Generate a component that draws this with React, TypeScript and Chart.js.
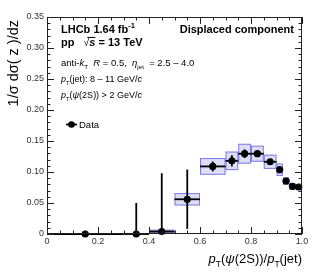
import React, { useEffect, useRef } from "react";
import { Chart, registerables } from "chart.js";

Chart.register(...registerables);

// ---- data ----
const binLow = [0, 0.3, 0.4, 0.5, 0.6, 0.7, 0.75, 0.8, 0.85, 0.9, 0.925, 0.95, 0.975];
const binHigh = [0.3, 0.4, 0.5, 0.6, 0.7, 0.75, 0.8, 0.85, 0.9, 0.925, 0.95, 0.975, 1.0];
const binCenter = [0.15, 0.35, 0.45, 0.55, 0.65, 0.725, 0.775, 0.825, 0.875, 0.9125, 0.9375, 0.9625, 0.9875];
const values = [0, 0, 0.004, 0.056, 0.109, 0.118, 0.1295, 0.1295, 0.1165, 0.1037, 0.0855, 0.0768, 0.0758];
const statUp = [0, 0.05, 0.094, 0.048, 0.008, 0.009, 0.007, 0.004, 0.004, 0.004, 0.003, 0.003, 0.003];
const statDown = [0, 0, 0.004, 0.048, 0.008, 0.009, 0.007, 0.004, 0.004, 0.004, 0.003, 0.003, 0.003];
const sysErr = [0, 0, 0.003, 0.010, 0.0135, 0.015, 0.016, 0.013, 0.0115, 0.010, 0.006, 0.005, 0.005];
const xTickStep = 0.2;
const yTickStep = 0.05;

const FAMILY = '"Liberation Sans", Arial, Helvetica, sans-serif';

type Seg = { t: string; style?: string; scale?: number; dy?: number; over?: boolean };

function drawRich(
  ctx: CanvasRenderingContext2D,
  x: number,
  y: number,
  segs: Seg[],
  size: number,
  align: "left" | "right" = "left",
  color = "#000"
) {
  ctx.save();
  ctx.textAlign = "left";
  ctx.textBaseline = "alphabetic";
  ctx.fillStyle = color;
  const widths = segs.map((s) => {
    ctx.font = `${s.style || ""} ${size * (s.scale || 1)}px ${FAMILY}`;
    return ctx.measureText(s.t).width;
  });
  const total = widths.reduce((a, b) => a + b, 0);
  let cx = align === "right" ? x - total : x;
  segs.forEach((s, i) => {
    ctx.font = `${s.style || ""} ${size * (s.scale || 1)}px ${FAMILY}`;
    ctx.fillText(s.t, cx, y + (s.dy || 0));
    if (s.over) {
      ctx.strokeStyle = color;
      ctx.lineWidth = 1;
      ctx.beginPath();
      ctx.moveTo(cx - 2, y - size * 0.78);
      ctx.lineTo(cx + widths[i], y - size * 0.78);
      ctx.stroke();
    }
    cx += widths[i];
  });
  ctx.restore();
}

const annotPlugin = {
  id: "annot",
  beforeDatasetsDraw(chart: any) {
    const ctx: CanvasRenderingContext2D = chart.ctx;
    const xs = chart.scales.x;
    const ys = chart.scales.y;
    ctx.save();
    // systematic boxes
    for (let i = 0; i < values.length; i++) {
      if (sysErr[i] <= 0) continue;
      const x0 = xs.getPixelForValue(binLow[i]);
      const x1 = xs.getPixelForValue(binHigh[i]);
      const y0 = ys.getPixelForValue(Math.max(0, values[i] - sysErr[i]));
      const y1 = ys.getPixelForValue(values[i] + sysErr[i]);
      ctx.fillStyle = "rgba(120,120,225,0.25)";
      ctx.fillRect(x0, y1, x1 - x0, y0 - y1);
      ctx.strokeStyle = "rgba(100,100,225,0.8)";
      ctx.lineWidth = 1;
      ctx.strokeRect(x0 + 0.5, y1 + 0.5, x1 - x0 - 1, y0 - y1 - 1);
    }
    // stat error bars
    ctx.strokeStyle = "#000";
    ctx.lineWidth = 1.8;
    for (let i = 0; i < values.length; i++) {
      const yc = ys.getPixelForValue(values[i]);
      ctx.beginPath();
      ctx.moveTo(xs.getPixelForValue(binLow[i]), yc);
      ctx.lineTo(xs.getPixelForValue(binHigh[i]), yc);
      ctx.stroke();
      if (statUp[i] > 0 || statDown[i] > 0) {
        const xc = xs.getPixelForValue(binCenter[i]);
        ctx.beginPath();
        ctx.moveTo(xc, ys.getPixelForValue(Math.max(0, values[i] - statDown[i])));
        ctx.lineTo(xc, ys.getPixelForValue(values[i] + statUp[i]));
        ctx.stroke();
      }
    }
    ctx.restore();
  },
  afterDraw(chart: any) {
    const ctx: CanvasRenderingContext2D = chart.ctx;
    const xs = chart.scales.x;
    const ys = chart.scales.y;
    const a = chart.chartArea;
    ctx.save();
    // frame
    ctx.strokeStyle = "#222";
    ctx.lineWidth = 1;
    ctx.strokeRect(a.left + 0.5, a.top + 0.5, a.right - a.left - 1, a.bottom - a.top - 1);
    // ticks
    ctx.beginPath();
    const xMinor = xTickStep / 4;
    for (let k = 0; k <= Math.round((xs.max - xs.min) / xMinor); k++) {
      const v = xs.min + k * xMinor;
      const major = k % 4 === 0;
      const px = Math.round(xs.getPixelForValue(v)) + 0.5;
      const len = major ? 7 : 3.5;
      ctx.moveTo(px, a.bottom);
      ctx.lineTo(px, a.bottom - len);
      ctx.moveTo(px, a.top);
      ctx.lineTo(px, a.top + len);
    }
    const yMinor = yTickStep / 5;
    for (let k = 0; k <= Math.round((ys.max - ys.min) / yMinor); k++) {
      const v = ys.min + k * yMinor;
      const major = k % 5 === 0;
      const py = Math.round(ys.getPixelForValue(v)) + 0.5;
      const len = major ? 7 : 3.5;
      ctx.moveTo(a.left, py);
      ctx.lineTo(a.left + len, py);
      ctx.moveTo(a.right, py);
      ctx.lineTo(a.right - len, py);
    }
    ctx.stroke();

    // y title
    ctx.save();
    ctx.translate(14, 20);
    ctx.rotate(-Math.PI / 2);
    ctx.font = `14.5px ${FAMILY}`;
    ctx.fillStyle = "#000";
    ctx.textAlign = "right";
    ctx.textBaseline = "middle";
    ctx.fillText("1/σ dσ( z )/dz", 0, 0);
    ctx.restore();

    // x title
    drawRich(
      ctx,
      302,
      263,
      [
        { t: "p", style: "italic" },
        { t: "T", scale: 0.65, dy: 4 },
        { t: "(" },
        { t: "ψ", style: "italic" },
        { t: "(2S))/" },
        { t: "p", style: "italic" },
        { t: "T", scale: 0.65, dy: 4 },
        { t: "(jet)" },
      ],
      13,
      "right"
    );

    // header
    drawRich(ctx, 61, 33, [{ t: "LHCb 1.64 fb", style: "bold" }, { t: "-1", style: "bold", scale: 0.7, dy: -5 }], 11);
    drawRich(
      ctx,
      61,
      46,
      [
        { t: "pp   ", style: "bold" },
        { t: "√", scale: 0.95 },
        { t: "s", style: "italic bold", over: true },
        { t: " = 13 TeV", style: "bold" },
      ],
      11
    );
    drawRich(ctx, 294, 33, [{ t: "Displaced component", style: "bold" }], 11, "right");

    drawRich(
      ctx,
      61,
      66,
      [
        { t: "anti-" },
        { t: "k", style: "italic" },
        { t: "T", scale: 0.65, dy: 3 },
        { t: "  " },
        { t: "R", style: "italic" },
        { t: " = 0.5,  " },
        { t: "η", style: "italic" },
        { t: "jet", scale: 0.65, dy: 3 },
        { t: "  = 2.5 – 4.0" },
      ],
      9.5
    );
    drawRich(
      ctx,
      61,
      82,
      [
        { t: "p", style: "italic" },
        { t: "T", scale: 0.65, dy: 3 },
        { t: "(jet): 8 – 11 GeV/" },
        { t: "c", style: "italic" },
      ],
      9
    );
    drawRich(
      ctx,
      61,
      98,
      [
        { t: "p", style: "italic" },
        { t: "T", scale: 0.65, dy: 3 },
        { t: "(" },
        { t: "ψ", style: "italic" },
        { t: "(2S)) > 2 GeV/" },
        { t: "c", style: "italic" },
      ],
      9
    );

    // legend
    ctx.strokeStyle = "#000";
    ctx.lineWidth = 1.8;
    ctx.beginPath();
    ctx.moveTo(66, 124.5);
    ctx.lineTo(77, 124.5);
    ctx.stroke();
    ctx.fillStyle = "#000";
    ctx.beginPath();
    ctx.arc(71.5, 124.5, 3.3, 0, Math.PI * 2);
    ctx.fill();
    drawRich(ctx, 79, 128, [{ t: "Data" }], 9.5);
    ctx.restore();
  },
};

export default function App() {
  const ref = useRef<HTMLCanvasElement>(null);
  useEffect(() => {
    if (!ref.current) return;
    const chart = new Chart(ref.current, {
      type: "scatter",
      data: {
        datasets: [
          {
            label: "Data",
            data: binCenter.map((x, i) => ({ x, y: values[i] })),
            backgroundColor: "#000",
            borderColor: "#000",
            pointRadius: 3.6,
            pointBorderWidth: 0,
            clip: false as any,
          },
        ],
      },
      options: {
        animation: false,
        responsive: true,
        maintainAspectRatio: false,
        layout: { padding: { left: 0, top: 17, right: 13, bottom: 0 } },
        plugins: { legend: { display: false }, tooltip: { enabled: false } },
        scales: {
          x: {
            type: "linear",
            min: 0,
            max: 1,
            ticks: {
              stepSize: xTickStep,
              color: "#333",
              font: { size: 9, family: FAMILY },
              padding: 2,
              maxRotation: 0,
            },
            grid: { display: false, drawTicks: false },
            border: { display: false },
            afterFit: (s: any) => {
              s.height = 42;
            },
          },
          y: {
            type: "linear",
            min: 0,
            max: 0.35,
            ticks: {
              stepSize: yTickStep,
              color: "#333",
              font: { size: 9, family: FAMILY },
              padding: 3,
            },
            grid: { display: false, drawTicks: false },
            border: { display: false },
            afterFit: (s: any) => {
              s.width = 47;
            },
          },
        },
      },
      plugins: [annotPlugin],
    });
    return () => chart.destroy();
  }, []);
  return (
    <div style={{ position: "fixed", left: 0, top: 0, width: 315, height: 276, background: "#fff" }}>
      <canvas ref={ref} />
    </div>
  );
}
